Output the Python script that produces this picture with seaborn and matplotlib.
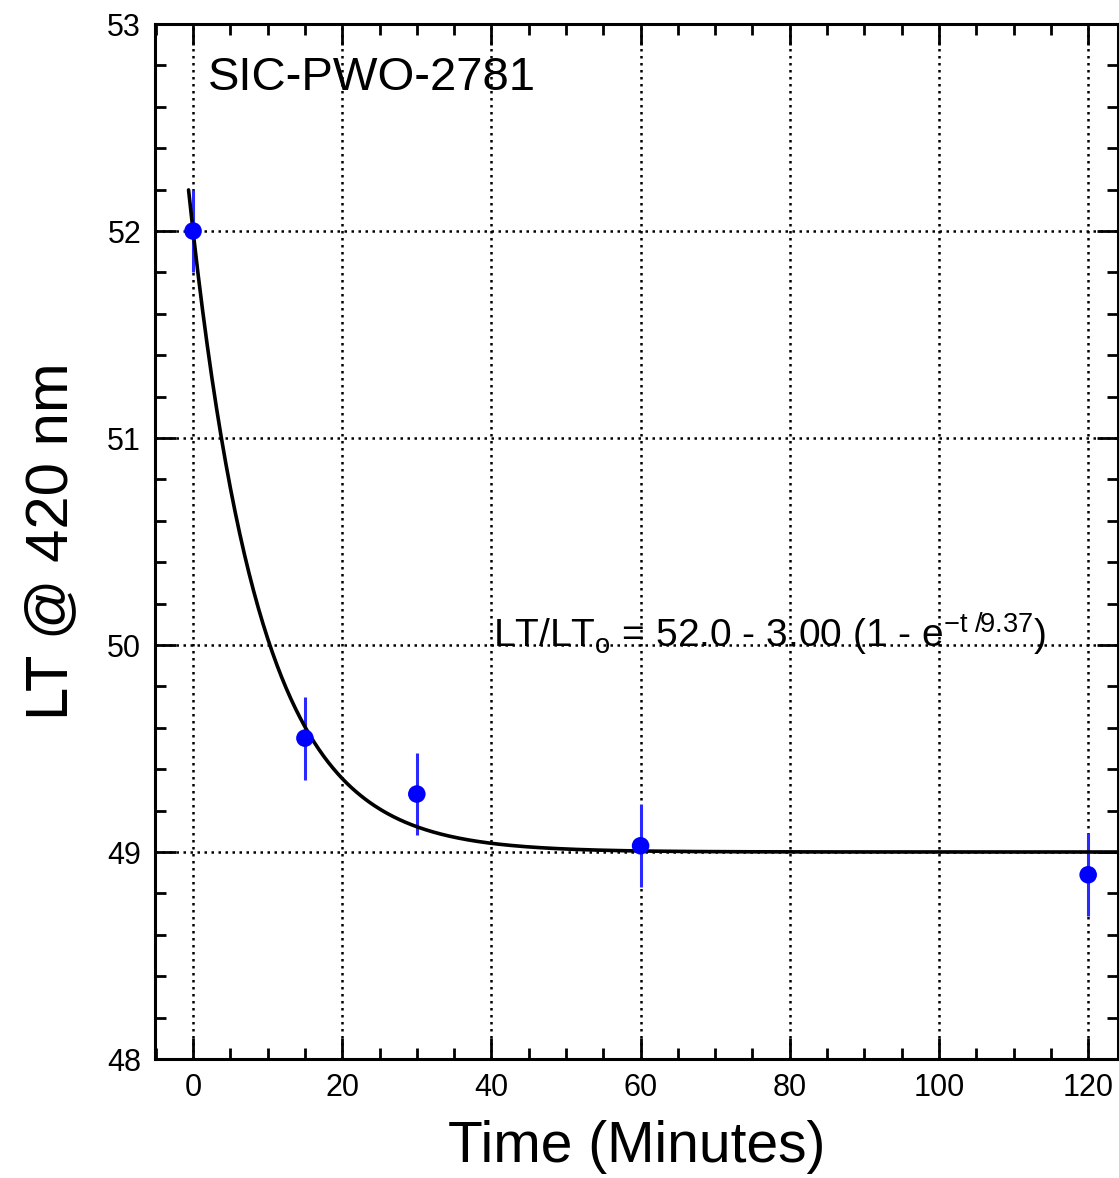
import numpy as np
import pandas as pd
import matplotlib
matplotlib.use("Agg")
import matplotlib.pyplot as plt
import seaborn as sns
from matplotlib.ticker import MultipleLocator

# ---- data ----
time_min = [0, 15, 30, 60, 120]
lt_values = [52.0, 49.55, 49.28, 49.03, 48.89]
lt_errors = [0.2, 0.2, 0.2, 0.2, 0.2]

# fit parameters shown in the annotation
fit_a = 52.0
fit_b = 3.00
fit_tau = 9.37
fit_t_start = -0.6
fit_t_end = 124.0

x_major = [0, 20, 40, 60, 80, 100, 120]
y_major = [48, 49, 50, 51, 52, 53]

sns.set_style("ticks")
plt.rcParams['font.family'] = ['Liberation Sans', 'DejaVu Sans']
plt.rcParams['mathtext.fontset'] = 'custom'
plt.rcParams['mathtext.rm'] = 'Liberation Sans'
plt.rcParams['mathtext.it'] = 'Liberation Sans'
plt.rcParams['mathtext.default'] = 'regular'
plt.rcParams['text.color'] = 'black'
plt.rcParams['axes.labelcolor'] = 'black'

fig = plt.figure(figsize=(11.19, 11.78), dpi=100)
ax = fig.add_axes([155/1119, (1178-1059)/1178, (1118-155)/1119, (1059-24)/1178])

df = pd.DataFrame({"t": time_min, "lt": lt_values, "err": lt_errors})
t_fit = np.linspace(fit_t_start, fit_t_end, 600)
fit_df = pd.DataFrame({"t": t_fit, "lt": fit_a - fit_b * (1 - np.exp(-t_fit / fit_tau))})

ax.set_xlim(-5.1, 124.0)
ax.set_ylim(48, 53)
ax.set_xticks(x_major)
ax.set_yticks(y_major)
ax.xaxis.set_minor_locator(MultipleLocator(5))
ax.yaxis.set_minor_locator(MultipleLocator(0.2))

ax.grid(True, which='major', color='black', linestyle=(0, (1, 1.8)), linewidth=1.8)
ax.set_axisbelow(True)

ax.errorbar(df["t"], df["lt"], yerr=df["err"], fmt='none', ecolor='#2a2aff',
            elinewidth=2.2, capsize=0, zorder=3)
sns.lineplot(data=fit_df, x="t", y="lt", ax=ax, color='black', linewidth=2.6,
             zorder=4, sort=False)
sns.scatterplot(data=df, x="t", y="lt", ax=ax, color='#0000ff', s=160,
                edgecolor='none', zorder=5)

ax.tick_params(which='both', direction='in', top=True, right=True,
               width=2, colors='black', labelcolor='black', labelsize=22, pad=10)
ax.tick_params(which='major', length=15)
ax.tick_params(which='minor', length=8)
for s in ax.spines.values():
    s.set_linewidth(2.2)
    s.set_color('black')

ax.set_xlabel("Time (Minutes)", fontsize=41, labelpad=12)
ax.set_ylabel("LT @ 420 nm", fontsize=43, labelpad=20)

ax.text(2.0, 52.74, "SIC-PWO-2781", fontsize=34, ha='left', va='center')
ax.text(40.2, 50.05, r"LT/LT$_{\mathrm{o}}$ = 52.0 - 3.00 (1 - e$^{-t\ /9.37}$)",
        fontsize=28, ha='left', va='center')

fig.savefig("out.png", dpi=100)
